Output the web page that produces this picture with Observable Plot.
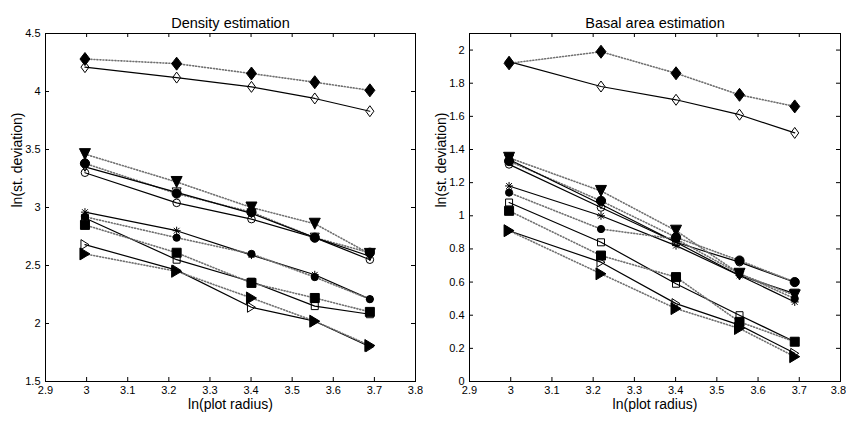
<!DOCTYPE html>
<html><head><meta charset="utf-8">
<script src="https://cdn.jsdelivr.net/npm/d3@7"></script>
<script src="https://cdn.jsdelivr.net/npm/@observablehq/plot@0.6"></script>
<style>
body{margin:0;background:#fff;}
#wrap{display:flex;width:846px;height:422px;}
</style></head><body><div id="wrap"></div>
<script>
// ---- shared axis values ----
const lnRadius = [2.996, 3.219, 3.401, 3.555, 3.689];
const xTicks = [2.9, 3.0, 3.1, 3.2, 3.3, 3.4, 3.5, 3.6, 3.7, 3.8];
const densityYTicks = [1.5, 2, 2.5, 3, 3.5, 4, 4.5];
const basalYTicks = [0, 0.2, 0.4, 0.6, 0.8, 1, 1.2, 1.4, 1.6, 1.8, 2];
const densityYDomain = [1.5, 4.5];
const basalYDomain = [0, 2.1];
const titles = ["Density estimation", "Basal area estimation"];
const xLabel = "ln(plot radius)";
const yLabel = "ln(st. deviation)";

// ---- Density estimation ----
const densDiamondOpen   = [4.21, 4.12, 4.04, 3.94, 3.83];
const densDiamondFilled = [4.28, 4.24, 4.155, 4.08, 4.01];
const densCircleOpen    = [3.30, 3.04, 2.90, 2.74, 2.55];
const densCircleFilled  = [3.38, 3.12, 2.96, 2.74, 2.61];
const densTriDownOpen   = [3.35, 3.13, 2.95, 2.74, 2.58];
const densTriDownFilled = [3.46, 3.22, 3.00, 2.86, 2.60];
const densStar          = [2.96, 2.80, 2.59, 2.42, 2.21];
const densDotFilled     = [2.92, 2.74, 2.60, 2.40, 2.21];
const densSquareOpen    = [2.91, 2.55, 2.36, 2.15, 2.08];
const densSquareFilled  = [2.85, 2.61, 2.35, 2.22, 2.10];
const densTriRightOpen  = [2.68, 2.46, 2.14, 2.02, 1.80];
const densTriRightFilled= [2.60, 2.45, 2.22, 2.02, 1.81];

// ---- Basal area estimation ----
const basDiamondOpen    = [1.93, 1.78, 1.70, 1.61, 1.50];
const basDiamondFilled  = [1.92, 1.99, 1.86, 1.73, 1.66];
const basCircleOpen     = [1.31, 1.05, 0.84, 0.72, 0.60];
const basCircleFilled   = [1.33, 1.09, 0.87, 0.73, 0.60];
const basTriDownOpen    = [1.34, 1.07, 0.84, 0.64, 0.53];
const basTriDownFilled  = [1.35, 1.15, 0.91, 0.65, 0.52];
const basStar           = [1.18, 1.00, 0.82, 0.64, 0.48];
const basDotFilled      = [1.14, 0.92, 0.86, 0.65, 0.50];
const basSquareOpen     = [1.08, 0.84, 0.59, 0.40, 0.24];
const basSquareFilled   = [1.03, 0.76, 0.63, 0.36, 0.24];
const basTriRightOpen   = [0.91, 0.72, 0.47, 0.34, 0.17];
const basTriRightFilled = [0.91, 0.65, 0.44, 0.32, 0.15];

// ---- marker shapes (style) ----
const shapes = {
  diamond: (w, h) => ({draw(c){c.moveTo(0,-h/2);c.lineTo(w/2,0);c.lineTo(0,h/2);c.lineTo(-w/2,0);c.closePath();}}),
  triDown: (w, h) => ({draw(c){c.moveTo(-w/2,-h/2);c.lineTo(w/2,-h/2);c.lineTo(0,h/2);c.closePath();}}),
  triRight: (w, h) => ({draw(c){c.moveTo(-w/2,-h/2);c.lineTo(w/2,0);c.lineTo(-w/2,h/2);c.closePath();}}),
  square: (s) => ({draw(c){c.moveTo(-s/2,-s/2);c.lineTo(s/2,-s/2);c.lineTo(s/2,s/2);c.lineTo(-s/2,s/2);c.closePath();}}),
  circle: (r) => ({draw(c){c.moveTo(r,0);c.arc(0,0,r,0,2*Math.PI);c.closePath();}}),
  asterisk: (r) => ({draw(c){
    c.moveTo(0,-r);c.lineTo(0,r);c.moveTo(-r,0);c.lineTo(r,0);
    const d=r*0.72;c.moveTo(-d,-d);c.lineTo(d,d);c.moveTo(-d,d);c.lineTo(d,-d);}})
};
const markerStyle = {
  diamondOpen:   {symbol: shapes.diamond(8, 11), fill: "none"},
  diamondFilled: {symbol: shapes.diamond(10, 13), fill: "black"},
  circleOpen:    {symbol: shapes.circle(3.8), fill: "none"},
  circleFilled:  {symbol: shapes.circle(4.6), fill: "black"},
  triDownOpen:   {symbol: shapes.triDown(9, 9), fill: "none"},
  triDownFilled: {symbol: shapes.triDown(11, 11), fill: "black"},
  star:          {symbol: shapes.asterisk(4), fill: "none"},
  dotFilled:     {symbol: shapes.circle(3.6), fill: "black"},
  squareOpen:    {symbol: shapes.square(7), fill: "none"},
  squareFilled:  {symbol: shapes.square(9), fill: "black"},
  triRightOpen:  {symbol: shapes.triRight(8, 10), fill: "none"},
  triRightFilled:{symbol: shapes.triRight(10, 12), fill: "black"}
};

const densitySeries = [
  [densDiamondOpen, "diamondOpen", false], [densDiamondFilled, "diamondFilled", true],
  [densCircleOpen, "circleOpen", false], [densCircleFilled, "circleFilled", true],
  [densTriDownOpen, "triDownOpen", false], [densTriDownFilled, "triDownFilled", true],
  [densStar, "star", false], [densDotFilled, "dotFilled", true],
  [densSquareOpen, "squareOpen", false], [densSquareFilled, "squareFilled", true],
  [densTriRightOpen, "triRightOpen", false], [densTriRightFilled, "triRightFilled", true]
];
const basalSeries = [
  [basDiamondOpen, "diamondOpen", false], [basDiamondFilled, "diamondFilled", true],
  [basCircleOpen, "circleOpen", false], [basCircleFilled, "circleFilled", true],
  [basTriDownOpen, "triDownOpen", false], [basTriDownFilled, "triDownFilled", true],
  [basStar, "star", false], [basDotFilled, "dotFilled", true],
  [basSquareOpen, "squareOpen", false], [basSquareFilled, "squareFilled", true],
  [basTriRightOpen, "triRightOpen", false], [basTriRightFilled, "triRightFilled", true]
];

const FONT = "'Liberation Sans', Arial, Helvetica, sans-serif";
const TICKFONT = "'Liberation Sans Narrow', 'Arial Narrow', 'Liberation Sans', Arial, sans-serif";
const fmt = d3.format("~g");

function panel(title, series, yDomain, yTicks, mLeft, mRight, lastTickDx) {
  const lines = [], dots = [];
  for (const [vals, key, dotted] of series) {
    const rows = vals.map((v, i) => ({x: lnRadius[i], y: v}));
    lines.push(Plot.line(rows, {x: "x", y: "y",
      stroke: dotted ? "#707070" : "black",
      strokeWidth: dotted ? 1.6 : 1.2,
      strokeDasharray: dotted ? "1,2" : null}));
    const ms = markerStyle[key];
    dots.push(Plot.dot(rows, {x: "x", y: "y", symbol: ms.symbol, fill: ms.fill, stroke: "black", strokeWidth: 1}));
  }
  const tickText = {tickSize: 0, tickFormat: fmt, label: null, fontSize: 11, fontFamily: TICKFONT};
  return Plot.plot({
    width: 423, height: 422,
    marginTop: 33, marginBottom: 41, marginLeft: mLeft, marginRight: mRight,
    style: {fontFamily: FONT, fontSize: "11px", background: "white", color: "black"},
    x: {domain: [2.9, 3.8]},
    y: {domain: yDomain},
    marks: [
      Plot.axisX({...tickText, ticks: xTicks.slice(0, -1), tickPadding: 5}),
      Plot.axisX({...tickText, ticks: xTicks.slice(-1), tickPadding: 5, dx: lastTickDx}),
      Plot.axisY({...tickText, ticks: yTicks, tickPadding: 5}),
      Plot.ruleX(xTicks, {x: d => d, y1: () => yDomain[0], y2: () => yDomain[0], insetTop: -4, stroke: "black"}),
      Plot.ruleX(xTicks, {x: d => d, y1: () => yDomain[1], y2: () => yDomain[1], insetBottom: -4, stroke: "black"}),
      Plot.ruleY(yTicks, {y: d => d, x1: () => 2.9, x2: () => 2.9, insetRight: -4, stroke: "black"}),
      Plot.ruleY(yTicks, {y: d => d, x1: () => 3.8, x2: () => 3.8, insetLeft: -4, stroke: "black"}),
      ...lines,
      ...dots,
      Plot.frame({stroke: "black", strokeWidth: 1}),
      Plot.text([title], {text: d => d, frameAnchor: "top", dy: -16, fontSize: 14.5}),
      Plot.text([xLabel], {text: d => d, frameAnchor: "bottom", dy: 27, fontSize: 14}),
      Plot.text([yLabel], {text: d => d, frameAnchor: "left", dx: -28, rotate: -90, fontSize: 14})
    ]
  });
}

const wrap = document.getElementById("wrap");
wrap.appendChild(panel(titles[0], densitySeries, densityYDomain, densityYTicks, 45, 8, 0));
wrap.appendChild(panel(titles[1], basalSeries, basalYDomain, basalYTicks, 46, 6, -2));
</script></body></html>
